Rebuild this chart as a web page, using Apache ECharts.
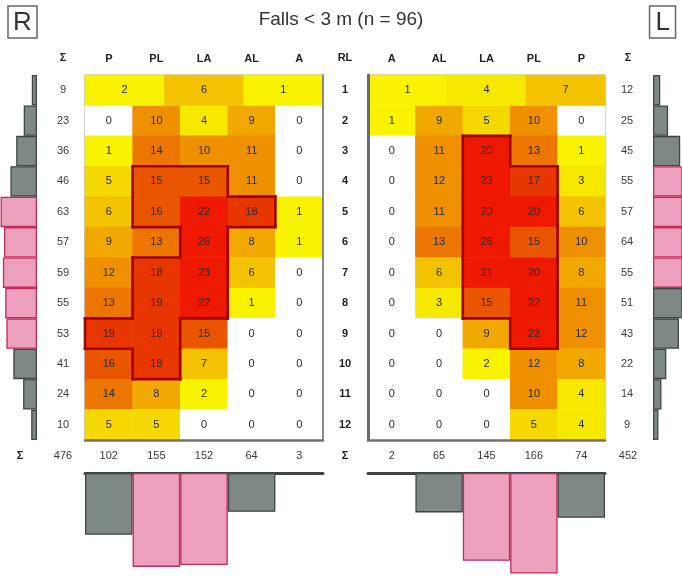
<!DOCTYPE html>
<html>
<head>
<meta charset="utf-8">
<script src="https://cdn.jsdelivr.net/npm/echarts@6/dist/echarts.min.js"></script>
<style>
html,body{margin:0;padding:0;background:#fff;}
#chart{width:682px;height:576px;}
</style>
</head>
<body>
<div id="chart"></div>
<script>
// ---------------- DATA ----------------
const rows = ['1','2','3','4','5','6','7','8','9','10','11','12'];
const leftCols = ['P','PL','LA','AL','A'];
const rightCols = ['A','AL','LA','PL','P'];
// row 1 is split in three equal cells
const leftTop = [2, 6, 1];
const rightTop = [1, 4, 7];
// rows 2..12, columns P, PL, LA, AL, A
const leftValues = [
  [0, 10, 4, 9, 0],
  [1, 14, 10, 11, 0],
  [5, 15, 15, 11, 0],
  [6, 16, 22, 18, 1],
  [9, 13, 26, 8, 1],
  [12, 18, 23, 6, 0],
  [13, 19, 22, 1, 0],
  [19, 19, 15, 0, 0],
  [16, 18, 7, 0, 0],
  [14, 8, 2, 0, 0],
  [5, 5, 0, 0, 0]
];
// rows 2..12, columns A, AL, LA, PL, P
const rightValues = [
  [1, 9, 5, 10, 0],
  [0, 11, 20, 13, 1],
  [0, 12, 23, 17, 3],
  [0, 11, 20, 20, 6],
  [0, 13, 26, 15, 10],
  [0, 6, 21, 20, 8],
  [0, 3, 15, 22, 11],
  [0, 0, 9, 22, 12],
  [0, 0, 2, 12, 8],
  [0, 0, 0, 10, 4],
  [0, 0, 0, 5, 4]
];
const leftRowSums = [9, 23, 36, 46, 63, 57, 59, 55, 53, 41, 24, 10];
const rightRowSums = [12, 25, 45, 55, 57, 64, 55, 51, 43, 22, 14, 9];
const leftColSums = [102, 155, 152, 64, 3];
const rightColSums = [2, 65, 145, 166, 74];
const leftTotal = 476;
const rightTotal = 452;
const leftHiRows = [5, 6, 7, 8, 9];
const rightHiRows = [4, 5, 6, 7];
const leftHiCols = ['PL', 'LA'];
const rightHiCols = ['LA', 'PL'];
const leftOutline = [['PL',4],['LA',4],['PL',5],['LA',5],['AL',5],['LA',6],['PL',7],['LA',7],['PL',8],['LA',8],['P',9],['PL',9],['PL',10]];
const rightOutline = [['LA',3],['LA',4],['LA',5],['LA',6],['LA',7],['LA',8],['PL',4],['PL',5],['PL',6],['PL',7],['PL',8],['PL',9]];

// ---------------- LAYOUT / STYLE ----------------
const FONT = '"Liberation Sans", Arial, Helvetica, sans-serif';
const GL = 85, GR = 368, GW = 238, GT = 75, GH = 365;
const BOT_T = 473, BOT_H = 103;
const GRAY = '#7e8987', GRAY_B = '#3e4644', PINK = '#eda0bd', PINK_B = '#c42a5a';

function heatData(vals) {
  const out = [];
  vals.forEach((row, r) => row.forEach((v, c) => out.push([c, r + 1, v])));
  return out;
}
function topData(vals) { return vals.map((v, i) => [i, 0, v]); }
function outlineData(cells, cols) { return cells.map(c => [cols.indexOf(c[0]), c[1] - 1]); }
function outlineRender(cells) {
  const set = new Set(cells.map(c => c[0] + ',' + c[1]));
  return function (params, api) {
    const c = api.value(0), r = api.value(1);
    const p = api.coord([c, r]);
    const s = api.size([1, 1]);
    const x0 = p[0] - s[0] / 2, x1 = p[0] + s[0] / 2, y0 = p[1] - s[1] / 2, y1 = p[1] + s[1] / 2;
    const segs = [];
    if (!set.has(c + ',' + (r - 1))) segs.push([x0, y0, x1, y0]);
    if (!set.has(c + ',' + (r + 1))) segs.push([x0, y1, x1, y1]);
    if (!set.has((c - 1) + ',' + r)) segs.push([x0, y0, x0, y1]);
    if (!set.has((c + 1) + ',' + r)) segs.push([x1, y0, x1, y1]);
    return {
      type: 'group',
      children: segs.map(g => ({
        type: 'line',
        shape: { x1: g[0], y1: g[1], x2: g[2], y2: g[3] },
        style: { stroke: '#a3000c', lineWidth: 2.6, lineCap: 'square' }
      }))
    };
  };
}
function rowBars(sums, hi) {
  return sums.map((v, i) => {
    const h = hi.indexOf(i + 1) >= 0;
    return { value: v, itemStyle: { color: h ? PINK : GRAY, borderColor: h ? PINK_B : GRAY_B, borderWidth: 1.3 } };
  });
}
function colBars(sums, cols, hi) {
  return sums.map((v, i) => {
    const h = hi.indexOf(cols[i]) >= 0;
    return { value: v, itemStyle: { color: h ? PINK : GRAY, borderColor: h ? PINK_B : GRAY_B, borderWidth: 1.3 } };
  });
}

const cellLabel = { show: true, color: '#2a2a2a', fontSize: 11, fontFamily: FONT, formatter: p => p.value[2] };
const hideAxis = { show: false };
const frameLine = (w, c) => ({ show: true, lineStyle: { color: c, width: w } });
const txt = (s, x, y, bold) => ({
  type: 'text', x: x, y: y,
  style: { text: s, align: 'center', verticalAlign: 'middle', fontSize: 11, fontFamily: FONT, fontWeight: bold ? 'bold' : 'normal', fill: bold ? '#222' : '#3a3a3a' }
});

const option = {
  animation: false,
  backgroundColor: '#fff',
  title: [
    { text: 'Falls < 3 m (n = 96)', left: 'center', top: 5, textStyle: { fontSize: 19, fontWeight: 'normal', color: '#333', fontFamily: FONT } },
    { text: 'R', left: 8, top: 6, padding: [3, 5, 1, 5], borderColor: '#666', borderWidth: 1.5, textStyle: { fontSize: 26, fontWeight: 'normal', color: '#333', fontFamily: FONT, lineHeight: 28 } },
    { text: 'L', right: 6, top: 6, padding: [3, 6, 1, 6], borderColor: '#666', borderWidth: 1.5, textStyle: { fontSize: 26, fontWeight: 'normal', color: '#333', fontFamily: FONT, lineHeight: 28 } }
  ],
  grid: [
    { left: GL, top: GT, width: GW, height: GH, show: true, borderColor: '#a8a8a8', borderWidth: 1.2, backgroundColor: 'transparent' },
    { left: GR, top: GT, width: GW - 1, height: GH, show: true, borderColor: '#a8a8a8', borderWidth: 1.2, backgroundColor: 'transparent' },
    { left: 0, top: GT, width: 37, height: GH },
    { left: 653, top: GT, right: 0, height: GH },
    { left: GL, top: BOT_T, width: GW, height: BOT_H },
    { left: GR, top: BOT_T, width: GW - 1, height: BOT_H }
  ],
  xAxis: [
    { gridIndex: 0, type: 'category', data: leftCols, position: 'top', axisLine: hideAxis, axisTick: hideAxis, splitLine: hideAxis,
      axisLabel: { fontSize: 11, fontWeight: 'bold', color: '#222', fontFamily: FONT, margin: 11 } },
    { gridIndex: 0, type: 'category', data: ['a','b','c'], show: false },
    { gridIndex: 0, type: 'category', data: leftColSums.map(String), position: 'bottom', axisLine: frameLine(2.5, '#727272'), axisTick: hideAxis,
      axisLabel: { fontSize: 11, color: '#3a3a3a', fontFamily: FONT, margin: 10 }, z: 20 },
    { gridIndex: 1, type: 'category', data: rightCols, position: 'top', axisLine: hideAxis, axisTick: hideAxis, splitLine: hideAxis,
      axisLabel: { fontSize: 11, fontWeight: 'bold', color: '#222', fontFamily: FONT, margin: 11 } },
    { gridIndex: 1, type: 'category', data: ['a','b','c'], show: false },
    { gridIndex: 1, type: 'category', data: rightColSums.map(String), position: 'bottom', axisLine: frameLine(2.5, '#727272'), axisTick: hideAxis,
      axisLabel: { fontSize: 11, color: '#3a3a3a', fontFamily: FONT, margin: 10 }, z: 20 },
    { gridIndex: 2, type: 'value', inverse: true, min: 0, max: 64, show: false },
    { gridIndex: 3, type: 'value', min: 0, max: 48, show: false },
    { gridIndex: 4, type: 'category', data: leftCols, position: 'top', axisTick: hideAxis, axisLabel: hideAxis,
      axisLine: frameLine(3, '#3e4444') },
    { gridIndex: 5, type: 'category', data: rightCols, position: 'top', axisTick: hideAxis, axisLabel: hideAxis,
      axisLine: frameLine(3, '#3e4444') }
  ],
  yAxis: [
    { gridIndex: 0, type: 'category', data: rows, inverse: true, position: 'left', axisLine: hideAxis, axisTick: hideAxis, splitLine: hideAxis,
      axisLabel: { formatter: (v, i) => String(leftRowSums[i]), align: 'center', margin: 22, fontSize: 11, color: '#3a3a3a', fontFamily: FONT } },
    { gridIndex: 0, type: 'category', data: rows, inverse: true, position: 'right', axisLine: frameLine(2, '#8a8a8a'), axisTick: hideAxis, splitLine: hideAxis,
      axisLabel: { align: 'center', margin: 22, fontSize: 11, fontWeight: 'bold', color: '#222', fontFamily: FONT }, z: 20 },
    { gridIndex: 1, type: 'category', data: rows, inverse: true, position: 'right', axisLine: hideAxis, axisTick: hideAxis, splitLine: hideAxis,
      axisLabel: { formatter: (v, i) => String(rightRowSums[i]), align: 'center', margin: 22, fontSize: 11, color: '#3a3a3a', fontFamily: FONT } },
    { gridIndex: 2, type: 'category', data: rows, inverse: true, show: false },
    { gridIndex: 3, type: 'category', data: rows, inverse: true, show: false },
    { gridIndex: 4, type: 'value', inverse: true, min: 0, max: 170, show: false },
    { gridIndex: 5, type: 'value', inverse: true, min: 0, max: 170, show: false },
    { gridIndex: 1, type: 'category', data: rows, inverse: true, position: 'left', axisLine: frameLine(3, '#6a6a6a'), axisTick: hideAxis,
      axisLabel: hideAxis, splitLine: hideAxis, z: 20 }
  ],
  visualMap: {
    type: 'piecewise', show: false, seriesIndex: [0, 1, 2, 3], dimension: 2,
    pieces: [
      { min: 0, max: 0, color: '#ffffff' },
      { min: 1, max: 2, color: '#f9f300' },
      { min: 3, max: 4, color: '#f7e800' },
      { min: 5, max: 5, color: '#f5d800' },
      { min: 6, max: 7, color: '#f3c200' },
      { min: 8, max: 9, color: '#f1a800' },
      { min: 10, max: 12, color: '#ef9000' },
      { min: 13, max: 14, color: '#ec7600' },
      { min: 15, max: 16, color: '#ea5600' },
      { min: 17, max: 19, color: '#e83600' },
      { min: 20, max: 100, color: '#ef1800' }
    ]
  },
  graphic: [
    txt('Σ', GL - 22, 58, true),
    txt('RL', GL + GW + 22, 58, true),
    txt('Σ', GR + GW + 22, 58, true),
    txt('Σ', 20, GT + GH + 16, true),
    txt(String(leftTotal), GL - 22, GT + GH + 16, false),
    txt('Σ', GL + GW + 22, GT + GH + 16, true),
    txt(String(rightTotal), GR + GW + 22, GT + GH + 16, false)
  ],
  series: [
    { type: 'heatmap', xAxisIndex: 0, yAxisIndex: 0, data: heatData(leftValues), label: cellLabel, emphasis: { disabled: true } },
    { type: 'heatmap', xAxisIndex: 1, yAxisIndex: 0, data: topData(leftTop), label: cellLabel, emphasis: { disabled: true } },
    { type: 'heatmap', xAxisIndex: 3, yAxisIndex: 2, data: heatData(rightValues), label: cellLabel, emphasis: { disabled: true } },
    { type: 'heatmap', xAxisIndex: 4, yAxisIndex: 2, data: topData(rightTop), label: cellLabel, emphasis: { disabled: true } },
    { type: 'custom', xAxisIndex: 0, yAxisIndex: 0, data: outlineData(leftOutline, leftCols),
      renderItem: outlineRender(outlineData(leftOutline, leftCols)), z: 10, silent: true },
    { type: 'custom', xAxisIndex: 3, yAxisIndex: 2, data: outlineData(rightOutline, rightCols),
      renderItem: outlineRender(outlineData(rightOutline, rightCols)), z: 10, silent: true },
    { type: 'bar', xAxisIndex: 6, yAxisIndex: 3, barCategoryGap: '0%', data: rowBars(leftRowSums, leftHiRows), silent: true },
    { type: 'bar', xAxisIndex: 7, yAxisIndex: 4, barCategoryGap: '0%', data: rowBars(rightRowSums, rightHiRows), silent: true },
    { type: 'bar', xAxisIndex: 8, yAxisIndex: 5, barCategoryGap: '0%', data: colBars(leftColSums, leftCols, leftHiCols), silent: true },
    { type: 'bar', xAxisIndex: 9, yAxisIndex: 6, barCategoryGap: '0%', data: colBars(rightColSums, rightCols, rightHiCols), silent: true }
  ]
};
const chart = echarts.init(document.getElementById('chart'), null, { renderer: 'canvas' });
chart.setOption(option);
</script>
</body>
</html>
